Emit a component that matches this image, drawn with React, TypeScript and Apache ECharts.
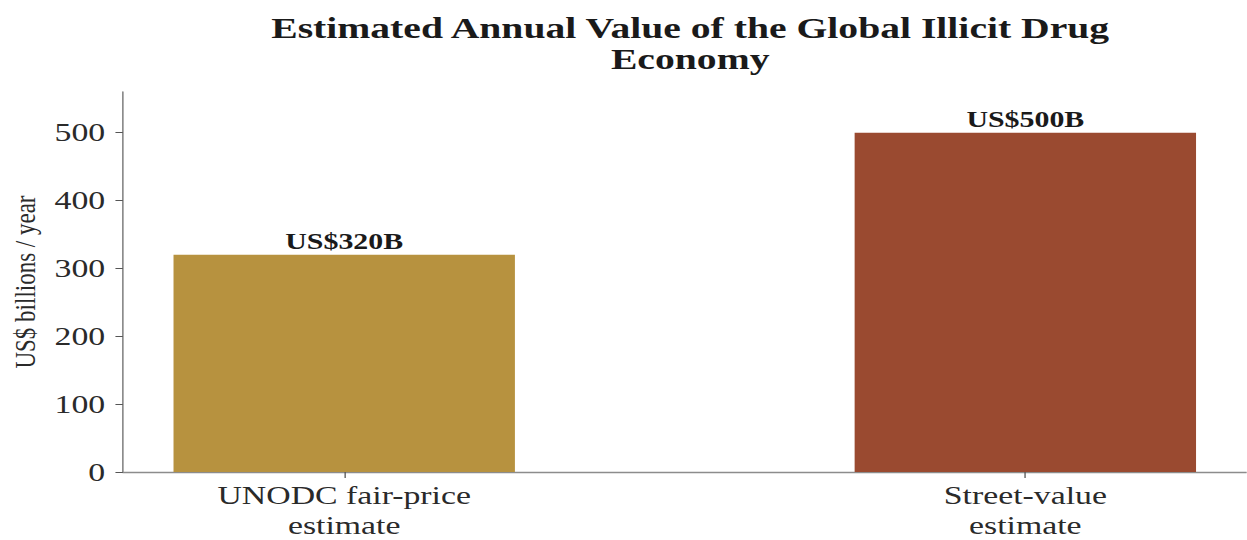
import React, { useEffect, useRef } from "react";
import * as echarts from "echarts";

const title = "Estimated Annual Value of the Global Illicit Drug\nEconomy";
const categories = ["UNODC fair-price\nestimate", "Street-value\nestimate"];
const values = [320, 500];
const barColors = ["#B7923F", "#9A4A30"];
const yTicks = [0, 100, 200, 300, 400, 500];
const yName = "US$ billions / year";

const STRETCH = 1.3;
const W = 1247 / STRETCH;
const H = 540;
const FONT = "'Liberation Serif', 'Times New Roman', serif";

const X_MIN = -0.325;
const X_MAX = 1.325;
const GRID_LEFT = 92.6;
const GRID_RIGHT = 0;

export default function App() {
  const ref = useRef<HTMLDivElement>(null);
  useEffect(() => {
    if (!ref.current) return;
    const chart = echarts.init(ref.current, undefined, { renderer: "svg" });
    const gridW = W - GRID_LEFT - GRID_RIGHT;
    const barW = (0.5 / (X_MAX - X_MIN)) * gridW;
    chart.setOption({
      animation: false,
      backgroundColor: "#ffffff",
      title: {
        text: title,
        left: GRID_LEFT + gridW / 2,
        top: 7,
        textAlign: "center",
        textStyle: {
          fontFamily: FONT,
          fontWeight: "bold",
          fontSize: 30.5,
          lineHeight: 31,
          color: "#1a1a1a",
        },
      },
      grid: { left: GRID_LEFT, right: GRID_RIGHT, top: 92, bottom: 66, containLabel: false },
      xAxis: {
        type: "value",
        min: X_MIN,
        max: X_MAX,
        splitLine: { show: false },
        axisLine: { show: true, onZero: false, lineStyle: { color: "#8c8c8c", width: 1.3 } },
        axisTick: {
          show: true,
          customValues: [0, 1],
          length: 6,
          lineStyle: { color: "#555", width: 1 },
        },
        axisLabel: {
          customValues: [0, 1],
          formatter: (v: number) => categories[Math.round(v)] ?? "",
          fontFamily: FONT,
          fontSize: 26,
          lineHeight: 30,
          color: "#2a2a2a",
          margin: 8,
        },
      },
      yAxis: {
        type: "value",
        min: 0,
        max: 560,
        name: yName,
        nameLocation: "middle",
        nameRotate: 90,
        nameGap: 63,
        nameTextStyle: { fontFamily: FONT, fontSize: 23, color: "#2a2a2a" },
        splitLine: { show: false },
        axisLine: { show: true, onZero: false, lineStyle: { color: "#8c8c8c", width: 1.3 } },
        axisTick: {
          show: true,
          customValues: yTicks,
          length: 5.7,
          lineStyle: { color: "#555", width: 1 },
        },
        axisLabel: {
          customValues: yTicks,
          fontFamily: FONT,
          fontSize: 26,
          color: "#2a2a2a",
          margin: 13.6,
        },
      },
      series: [
        {
          type: "bar",
          barWidth: barW,
          data: values.map((v, i) => ({
            value: [i, v],
            itemStyle: { color: barColors[i] },
          })),
          label: {
            show: true,
            position: "top",
            distance: 2,
            formatter: (p: any) => `US$${p.value[1]}B`,
            fontFamily: FONT,
            fontWeight: "bold",
            fontSize: 23,
            color: "#1a1a1a",
          },
        },
      ],
    });
    return () => chart.dispose();
  }, []);
  return (
    <div
      style={{
        position: "absolute",
        left: 0,
        top: 0,
        width: 1247,
        height: H,
        overflow: "hidden",
        background: "#fff",
      }}
    >
      <div
        ref={ref}
        style={{
          width: W,
          height: H,
          transform: `scaleX(${STRETCH})`,
          transformOrigin: "0 0",
        }}
      />
    </div>
  );
}
